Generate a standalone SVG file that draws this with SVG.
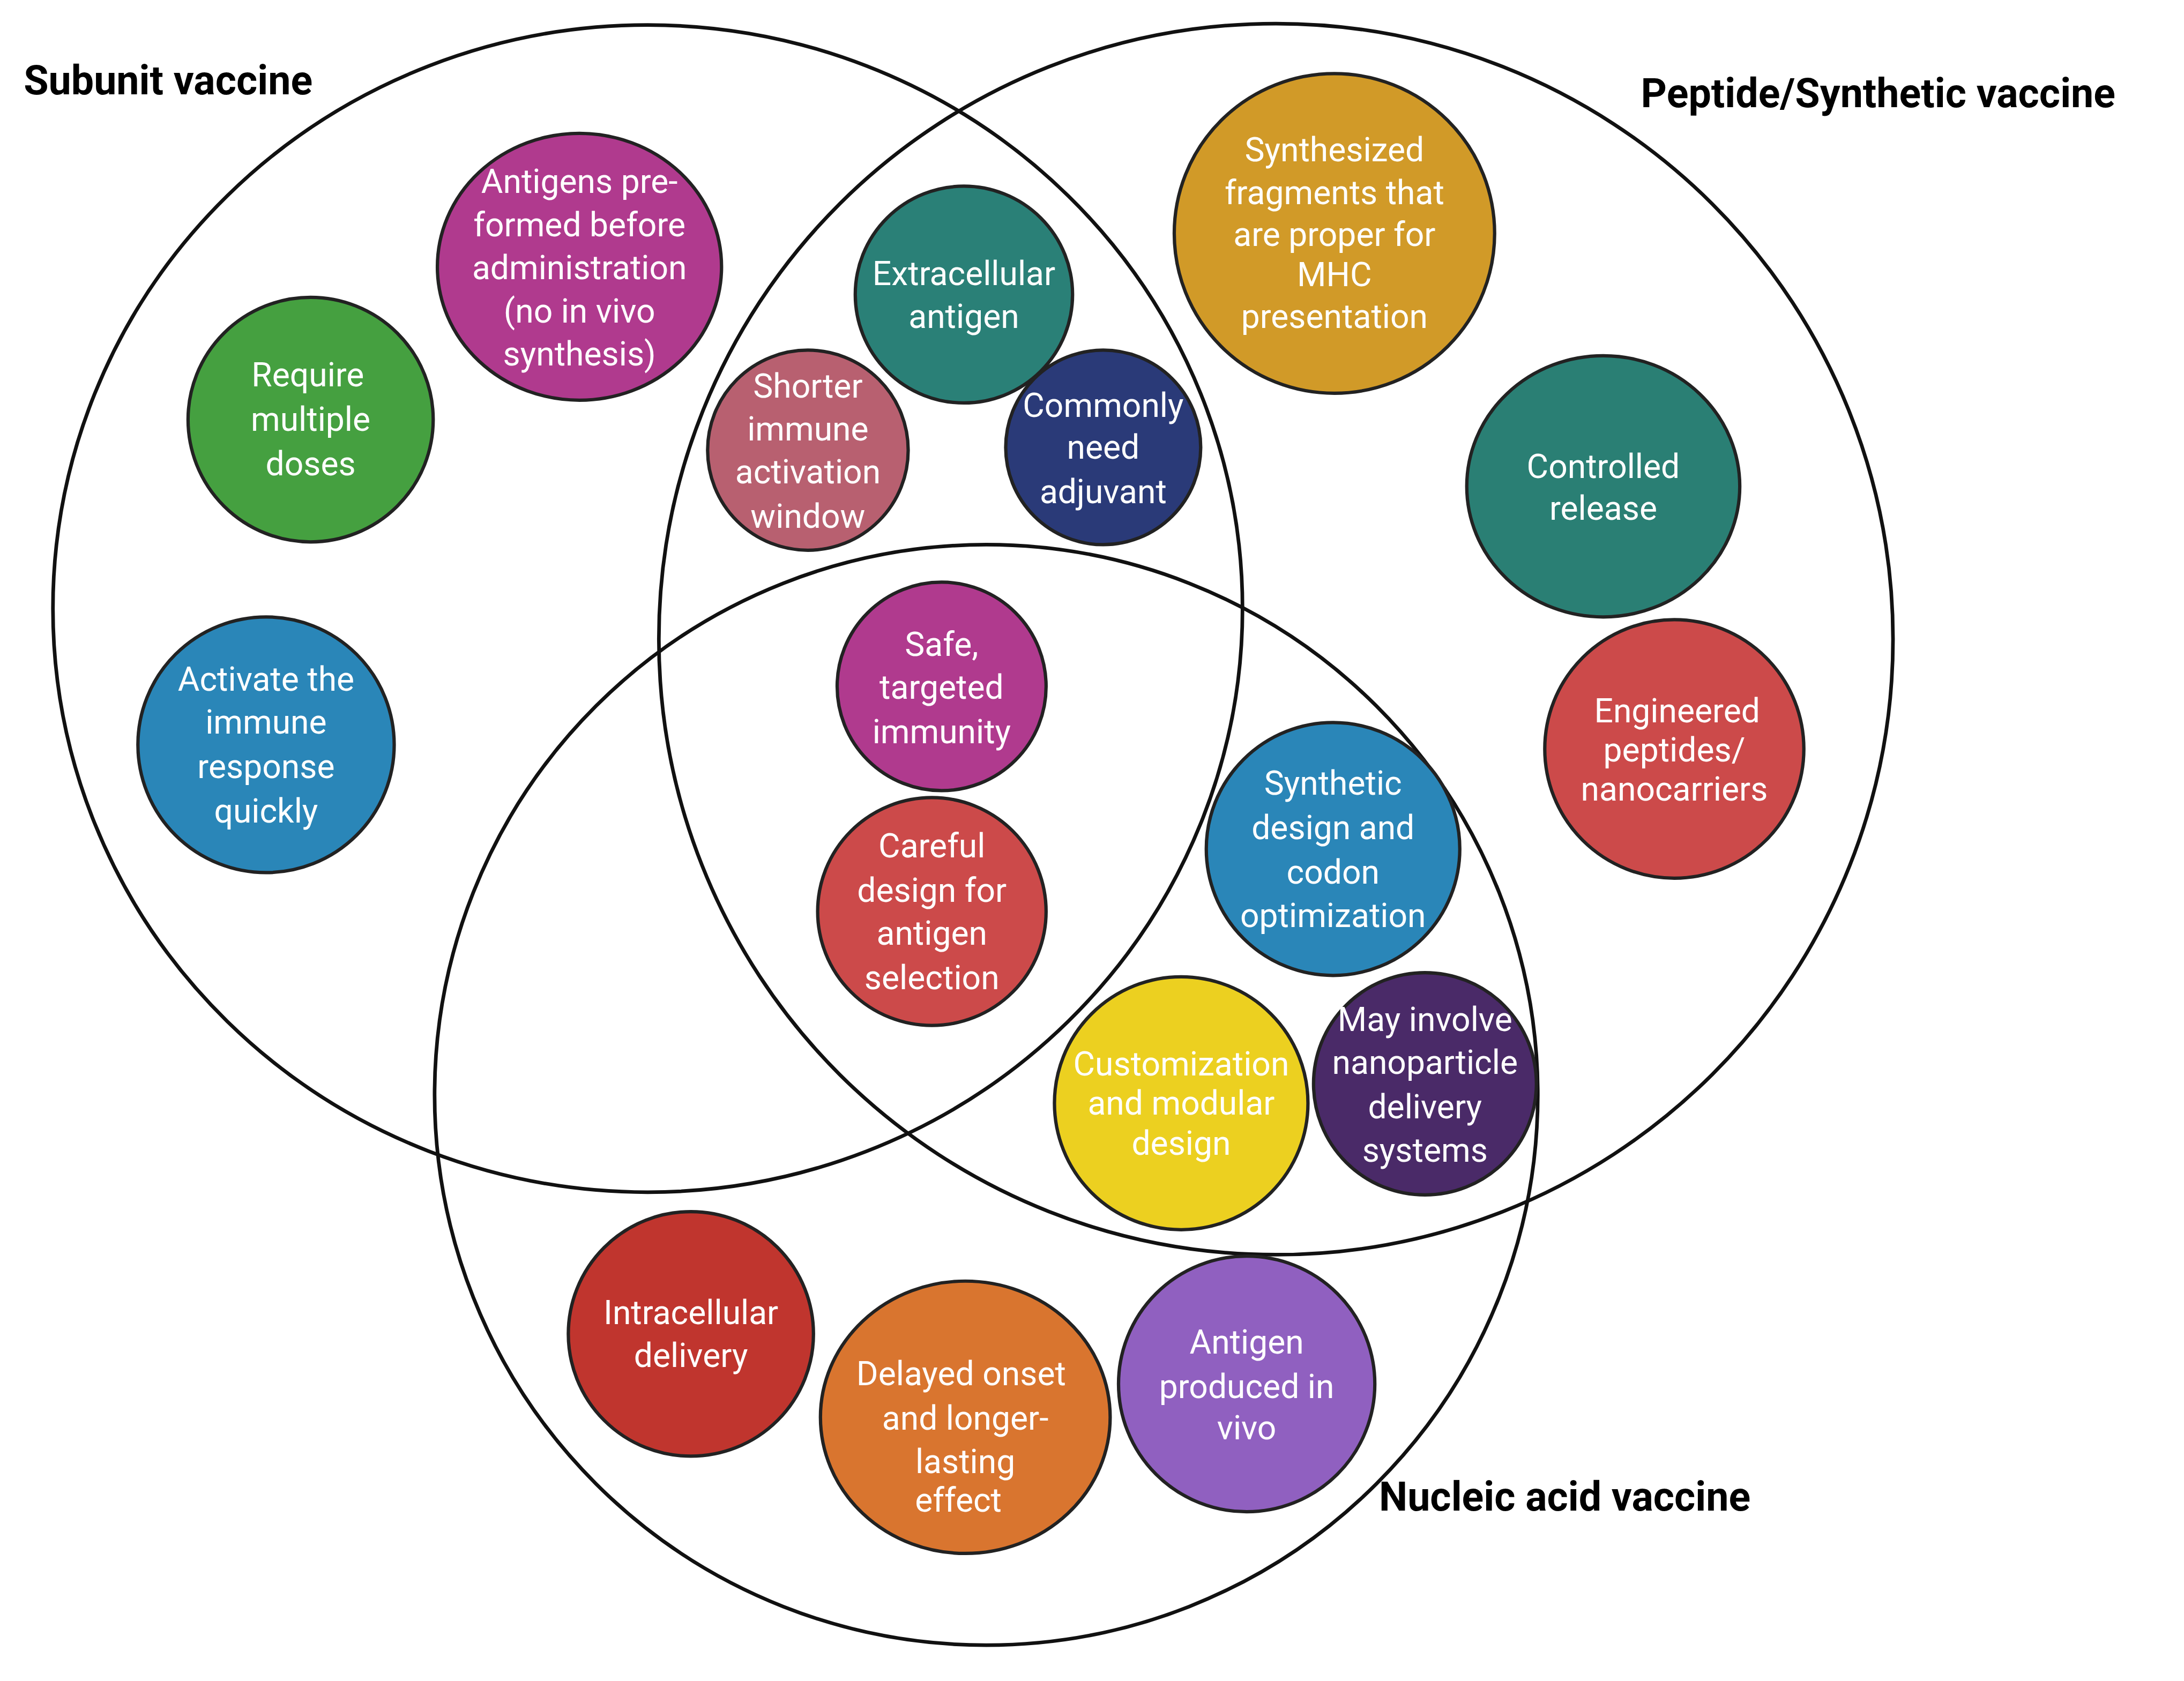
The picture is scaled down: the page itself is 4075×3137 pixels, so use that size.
<svg xmlns="http://www.w3.org/2000/svg" width="4075" height="3137" viewBox="0 0 4075 3137">
<style>
.big{fill:none;stroke:#111;stroke-width:2.6}
.n{stroke:#222;stroke-width:2.4}
.t{font-family:Roboto,"Liberation Sans",sans-serif;font-size:24px;fill:#fff;text-anchor:middle}
.h{font-family:Roboto,"Liberation Sans",sans-serif;font-size:29px;font-weight:bold;fill:#000}
</style>
<rect width="4075" height="3137" fill="#fff"/>
<g transform="scale(2.599,2.593)">
<g id="sets">
<ellipse class="big" cx="465" cy="438" rx="427" ry="420"/>
<ellipse class="big" cx="916" cy="460" rx="443" ry="443"/>
<ellipse class="big" cx="708" cy="788" rx="396" ry="396"/>
</g>
<g id="titles">
<text class="h" x="17" y="68">Subunit vaccine</text>
<text class="h" x="1178" y="77">Peptide/Synthetic vaccine</text>
<text class="h" x="990" y="1087">Nucleic acid vaccine</text>
</g>
<g id="n1"><ellipse class="n" cx="416" cy="192" rx="102" ry="96" fill="#b03a8e"/><text class="t" x="416"><tspan x="416" y="139">Antigens pre-</tspan><tspan x="416" y="170">formed before</tspan><tspan x="416" y="201">administration</tspan><tspan x="416" y="232">(no in vivo</tspan><tspan x="416" y="263">synthesis)</tspan></text></g>
<g id="n2"><circle class="n" cx="223" cy="302" r="88" fill="#45a040"/><text class="t"><tspan x="221" y="278">Require</tspan><tspan x="223" y="310">multiple</tspan><tspan x="223" y="342">doses</tspan></text></g>
<g id="n3"><circle class="n" cx="191" cy="536" r="92" fill="#2a86b8"/><text class="t"><tspan x="191" y="497">Activate the</tspan><tspan x="191" y="528">immune</tspan><tspan x="191" y="560">response</tspan><tspan x="191" y="592">quickly</tspan></text></g>
<g id="n4"><circle class="n" cx="692" cy="212" r="78" fill="#2a8077"/><text class="t"><tspan x="692" y="205">Extracellular</tspan><tspan x="692" y="236">antigen</tspan></text></g>
<g id="n5"><circle class="n" cx="580" cy="324" r="72" fill="#b86070"/><text class="t"><tspan x="580" y="286">Shorter</tspan><tspan x="580" y="317">immune</tspan><tspan x="580" y="348">activation</tspan><tspan x="580" y="380">window</tspan></text></g>
<g id="n6"><circle class="n" cx="792" cy="322" r="70" fill="#2a3a78"/><text class="t"><tspan x="792" y="300">Commonly</tspan><tspan x="792" y="330">need</tspan><tspan x="792" y="362">adjuvant</tspan></text></g>
<g id="n7"><circle class="n" cx="958" cy="168" r="115" fill="#d19a28" stroke="#8a4a1a"/><text class="t"><tspan x="958" y="116">Synthesized</tspan><tspan x="958" y="147">fragments that</tspan><tspan x="958" y="177">are proper for</tspan><tspan x="958" y="206">MHC</tspan><tspan x="958" y="236">presentation</tspan></text></g>
<g id="n8"><ellipse class="n" cx="1151" cy="350" rx="98" ry="94" fill="#2a7f74"/><text class="t"><tspan x="1151" y="344">Controlled</tspan><tspan x="1151" y="374">release</tspan></text></g>
<g id="n9"><circle class="n" cx="1202" cy="539" r="93" fill="#cc4a4a"/><text class="t"><tspan x="1204" y="520">Engineered</tspan><tspan x="1202" y="548">peptides/</tspan><tspan x="1202" y="576">nanocarriers</tspan></text></g>
<g id="n10"><circle class="n" cx="676" cy="494" r="75" fill="#b03a8e"/><text class="t"><tspan x="676" y="472">Safe,</tspan><tspan x="676" y="503">targeted</tspan><tspan x="676" y="535">immunity</tspan></text></g>
<g id="n11"><circle class="n" cx="669" cy="656" r="82" fill="#cc4a4a" stroke="#000" stroke-width="3"/><text class="t"><tspan x="669" y="617">Careful</tspan><tspan x="669" y="649">design for</tspan><tspan x="669" y="680">antigen</tspan><tspan x="669" y="712">selection</tspan></text></g>
<g id="n12"><circle class="n" cx="957" cy="611" r="91" fill="#2a86b8"/><text class="t"><tspan x="957" y="572">Synthetic</tspan><tspan x="957" y="604">design and</tspan><tspan x="957" y="636">codon</tspan><tspan x="957" y="667">optimization</tspan></text></g>
<g id="n13"><circle class="n" cx="848" cy="794" r="91" fill="#ecd020"/><text class="t"><tspan x="848" y="774">Customization</tspan><tspan x="848" y="802">and modular</tspan><tspan x="848" y="831">design</tspan></text></g>
<g id="n14"><circle class="n" cx="1023" cy="780" r="80" fill="#4a2a68"/><text class="t"><tspan x="1023" y="742">May involve</tspan><tspan x="1023" y="773">nanoparticle</tspan><tspan x="1023" y="805">delivery</tspan><tspan x="1023" y="836">systems</tspan></text></g>
<g id="n15"><circle class="n" cx="496" cy="960" r="88" fill="#c0352e" stroke="#000" stroke-width="3"/><text class="t"><tspan x="496" y="953">Intracellular</tspan><tspan x="496" y="984">delivery</tspan></text></g>
<g id="n16"><ellipse class="n" cx="693" cy="1020" rx="104" ry="98" fill="#d9752f"/><text class="t"><tspan x="690" y="997">Delayed onset</tspan><tspan x="693" y="1029">and longer-</tspan><tspan x="693" y="1060">lasting</tspan><tspan x="688" y="1088">effect</tspan></text></g>
<g id="n17"><circle class="n" cx="895" cy="996" r="92" fill="#9060c0"/><text class="t"><tspan x="895" y="974">Antigen</tspan><tspan x="895" y="1006">produced in</tspan><tspan x="895" y="1036">vivo</tspan></text></g>
<g id="connectors"></g>
</g>
</svg>
